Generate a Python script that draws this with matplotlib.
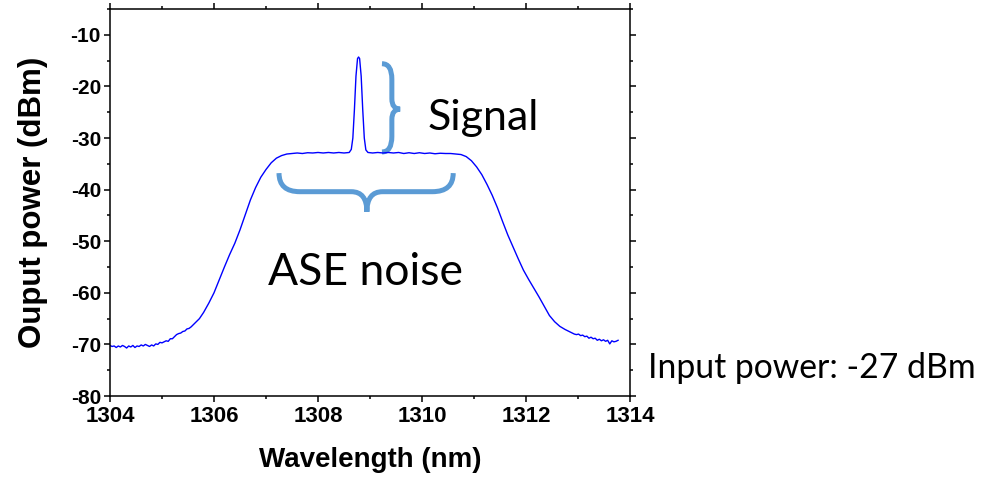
import matplotlib
matplotlib.use('Agg')
import matplotlib.pyplot as plt
from matplotlib.path import Path
from matplotlib.patches import PathPatch
from matplotlib.ticker import MultipleLocator

plt.rcParams['axes.unicode_minus'] = False

# spectrum, split into pieces
wl_tail_left = [1304.00, 1304.04, 1304.08, 1304.12, 1304.16, 1304.20, 1304.24, 1304.28,
                1304.32, 1304.36, 1304.40, 1304.44, 1304.48, 1304.52, 1304.56, 1304.60,
                1304.64, 1304.68, 1304.72, 1304.76, 1304.80, 1304.84, 1304.88, 1304.92,
                1304.96, 1305.00, 1305.04, 1305.08, 1305.12, 1305.16, 1305.20, 1305.24,
                1305.28, 1305.32, 1305.36, 1305.40, 1305.44, 1305.48, 1305.52, 1305.56,
                1305.60, 1305.64, 1305.68, 1305.72]
p_tail_left = [-70.2, -70.4, -70.3, -70.6, -70.3, -70.5, -70.2, -70.4,
               -70.7, -70.3, -70.5, -70.2, -70.6, -70.3, -70.4, -70.1,
               -70.3, -70.0, -70.2, -70.4, -70.1, -70.3, -69.9, -70.0,
               -69.6, -69.7, -69.5, -69.3, -69.4, -68.9, -68.9, -68.5,
               -68.1, -67.9, -67.8, -67.5, -67.4, -67.0, -66.9, -66.6,
               -66.2, -65.8, -65.4, -65.0]

wl_edge_left = [1305.80, 1305.90, 1306.00, 1306.10, 1306.20, 1306.30, 1306.40, 1306.50,
                1306.60, 1306.70, 1306.80, 1306.90, 1307.00, 1307.10, 1307.20, 1307.30]
p_edge_left = [-63.8, -62.0, -60.0, -57.5, -55.0, -52.6, -50.4, -47.8,
               -44.9, -42.0, -39.6, -37.6, -36.1, -34.8, -33.9, -33.4]

wl_flat_left = [1307.40, 1307.50, 1307.60, 1307.70, 1307.80, 1307.90, 1308.00,
                1308.10, 1308.20, 1308.30, 1308.40, 1308.50, 1308.60]
p_flat_left = [-33.1, -33.0, -32.9, -33.0, -32.85, -32.9, -32.8,
               -32.9, -32.8, -32.9, -32.8, -32.9, -32.8]

wl_peak = [1308.64, 1308.67, 1308.70, 1308.73, 1308.76, 1308.78, 1308.80,
           1308.83, 1308.86, 1308.89, 1308.92, 1308.96]
p_peak = [-32.2, -30.0, -24.5, -18.0, -14.6, -14.3, -14.6,
          -18.0, -24.5, -30.0, -32.3, -32.8]

wl_flat_right = [1309.05, 1309.15, 1309.25, 1309.35, 1309.45, 1309.55, 1309.65, 1309.75,
                 1309.85, 1309.95, 1310.05, 1310.15, 1310.25, 1310.35, 1310.45, 1310.55,
                 1310.65, 1310.75]
p_flat_right = [-32.9, -32.8, -32.9, -32.8, -32.9, -32.8, -33.0, -32.85,
                -33.0, -32.85, -33.0, -32.9, -33.05, -32.95, -33.0, -33.0,
                -33.1, -33.2]

wl_edge_right = [1310.85, 1310.95, 1311.05, 1311.15, 1311.25, 1311.35, 1311.45, 1311.55,
                 1311.65, 1311.75, 1311.85, 1311.95, 1312.05, 1312.15, 1312.25, 1312.35,
                 1312.45, 1312.55, 1312.65, 1312.75, 1312.85]
p_edge_right = [-33.6, -34.4, -35.6, -37.1, -39.0, -41.1, -43.5, -46.2,
                -48.8, -51.1, -53.4, -55.6, -57.4, -59.1, -60.8, -62.6,
                -64.4, -65.6, -66.5, -67.1, -67.6]

wl_tail_right = [1312.89, 1312.93, 1312.97, 1313.01, 1313.05, 1313.09, 1313.13, 1313.17,
                 1313.21, 1313.25, 1313.29, 1313.33, 1313.37, 1313.41, 1313.45, 1313.49,
                 1313.53, 1313.57, 1313.61, 1313.65, 1313.69, 1313.73, 1313.77]
p_tail_right = [-67.8, -68.0, -68.1, -68.0, -68.3, -68.2, -68.5, -68.4,
                -68.8, -68.6, -68.9, -68.8, -69.2, -69.0, -69.3, -69.1,
                -69.4, -69.2, -69.9, -69.3, -69.5, -69.4, -69.2]

wavelength = (wl_tail_left + wl_edge_left + wl_flat_left + wl_peak
              + wl_flat_right + wl_edge_right + wl_tail_right)
power = (p_tail_left + p_edge_left + p_flat_left + p_peak
         + p_flat_right + p_edge_right + p_tail_right)

x_ticks = [1304, 1306, 1308, 1310, 1312, 1314]
y_ticks = [-80, -70, -60, -50, -40, -30, -20, -10]

brace_color = '#5B9BD5'
note_font = ['Lato', 'DejaVu Sans']

fig = plt.figure(figsize=(9.9, 4.83), dpi=100)
ax = fig.add_axes([0.1111, 0.1801, 0.5253, 0.8012])
ax.plot(wavelength, power, color='#0000FF', linewidth=1.0)

ax.set_xlim(1304, 1314)
ax.set_ylim(-80, -5)
ax.set_xticks(x_ticks)
ax.set_yticks(y_ticks)
ax.xaxis.set_minor_locator(MultipleLocator(1))
ax.yaxis.set_minor_locator(MultipleLocator(5))
ax.tick_params(which='both', direction='out', top=True, right=True, width=1.1)
ax.tick_params(which='major', length=4.5)
ax.tick_params(which='minor', length=2.5)
ax.tick_params(axis='x', which='major', labelsize=16, pad=3)
ax.tick_params(axis='y', which='major', labelsize=15, pad=2)
for lab in ax.get_xticklabels() + ax.get_yticklabels():
    lab.set_fontfamily('Liberation Sans')
    lab.set_fontweight('bold')
for sp in ax.spines.values():
    sp.set_linewidth(1.1)

ax.set_xlabel('Wavelength (nm)', fontsize=20, fontweight='bold',
              family='Liberation Sans', labelpad=14)
ax.set_ylabel('Ouput power (dBm)', fontsize=22.5, fontweight='bold',
              family='Liberation Sans', labelpad=16)

# vertical brace next to the signal peak
bx0, bx1, bxt = 1309.23, 1309.42, 1309.58
by0, bym, by1 = -15.6, -24.4, -32.7
v_verts = [(bx0, by0), (bx1, by0), (bx1, by0 - 3.0),
           (bx1, bym + 2.0),
           (bx1, bym), (bxt, bym),
           (bx1, bym), (bx1, bym - 2.0),
           (bx1, by1 + 3.0),
           (bx1, by1), (bx0, by1)]
v_codes = [Path.MOVETO, Path.CURVE3, Path.CURVE3, Path.LINETO,
           Path.CURVE3, Path.CURVE3, Path.CURVE3, Path.CURVE3,
           Path.LINETO, Path.CURVE3, Path.CURVE3]
ax.add_patch(PathPatch(Path(v_verts, v_codes), fill=False, edgecolor=brace_color,
                       linewidth=3.6, capstyle='butt', clip_on=False))

# horizontal brace under the ASE plateau
hx0, hx1, hxt = 1307.25, 1310.60, 1308.94
hy0, hyf, hyt = -36.8, -40.4, -44.3
h_verts = [(hx0, hy0), (hx0, hyf), (hx0 + 0.4, hyf),
           (hxt - 0.3, hyf),
           (hxt, hyf), (hxt, hyt),
           (hxt, hyf), (hxt + 0.3, hyf),
           (hx1 - 0.4, hyf),
           (hx1, hyf), (hx1, hy0)]
h_codes = v_codes
ax.add_patch(PathPatch(Path(h_verts, h_codes), fill=False, edgecolor=brace_color,
                       linewidth=3.6, capstyle='butt', clip_on=False))

W, H = 990.0, 483.0
fig.text(428 / W, 1 - 130 / H, 'Signal', fontsize=31, family=note_font, va='baseline')
fig.text(268 / W, 1 - 285 / H, 'ASE noise', fontsize=32, family=note_font, va='baseline')
fig.text(648 / W, 1 - 378 / H, 'Input power: -27 dBm', fontsize=24.3, family=note_font,
         va='baseline')

fig.savefig('out.png', dpi=100)
